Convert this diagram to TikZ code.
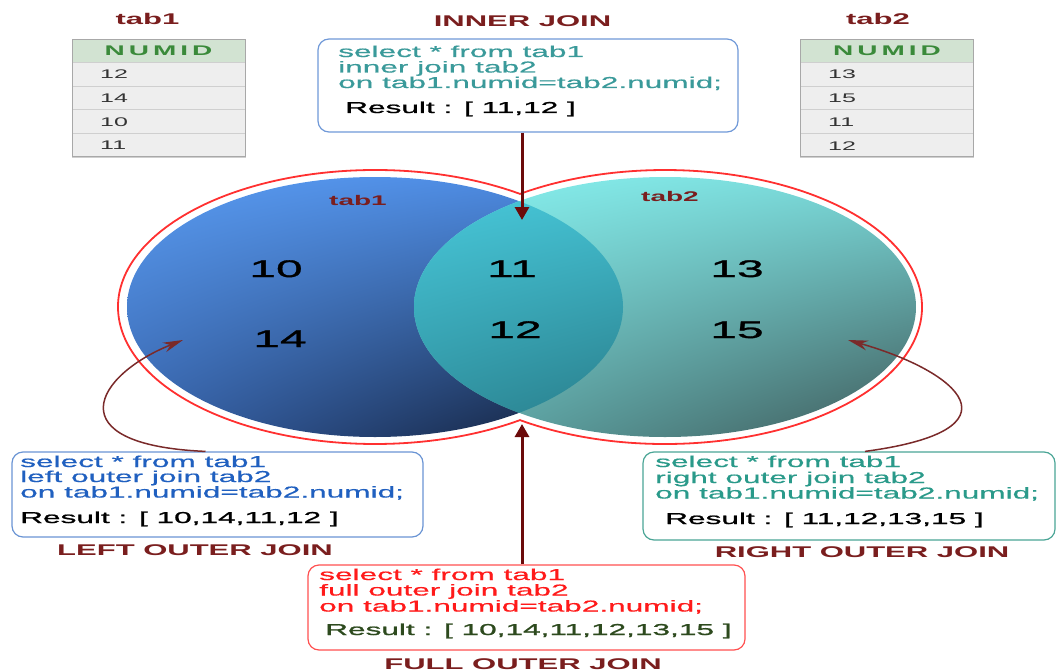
\documentclass[tikz,border=0pt]{standalone}
\usepackage{fontspec}
\usetikzlibrary{arrows.meta,shadings}
\newfontfamily\wf[FakeStretch=2.0]{Liberation Sans}
\newfontfamily\wfm[FakeStretch=2.0,FakeBold=0.6]{Liberation Sans}
\newfontfamily\wfr[FakeStretch=2.0,FakeBold=1.2]{Liberation Sans}
\definecolor{titlec}{HTML}{7A1E1E}
\definecolor{arrowc}{HTML}{6B0A0A}
\definecolor{curvec}{HTML}{7A2A2A}
\definecolor{hdrfill}{HTML}{D2E3D2}
\definecolor{hdrtextc}{HTML}{3A8A3A}
\definecolor{cellfill}{HTML}{EEEEEE}
\definecolor{cellline}{HTML}{CFCFCF}
\definecolor{tabborder}{HTML}{A8A8A8}
\definecolor{innerborder}{HTML}{7099D8}
\definecolor{innertext}{HTML}{3A9A9A}
\definecolor{leftborder}{HTML}{6A94D4}
\definecolor{lefttext}{HTML}{2060C0}
\definecolor{rightborder}{HTML}{4AA596}
\definecolor{righttext}{HTML}{2A9A8A}
\definecolor{fullborder}{HTML}{FF5050}
\definecolor{fulltext}{HTML}{FF1A1A}
\definecolor{fullresult}{HTML}{2D4A1E}
\definecolor{redline}{HTML}{FF3030}
\definecolor{bUL}{HTML}{5A9CF2}
\definecolor{bUR}{HTML}{4A86DD}
\definecolor{bLL}{HTML}{3764AC}
\definecolor{bLR}{HTML}{101A30}
\definecolor{tUL}{HTML}{88F2F0}
\definecolor{tUR}{HTML}{78D6D6}
\definecolor{tLL}{HTML}{62B0B0}
\definecolor{tLR}{HTML}{3E5858}
\definecolor{iUL}{HTML}{4ACCDE}
\definecolor{iUR}{HTML}{3EB8C8}
\definecolor{iLL}{HTML}{2E8E9C}
\definecolor{iLR}{HTML}{1E5A66}
\tikzset{
  jtitle/.style={font=\wf\bfseries\fontsize{15.5}{16}\selectfont, text=titlec, inner sep=0pt, anchor=base},
  sqlline/.style={font=\wfm\fontsize{15.8}{16}\selectfont, inner sep=0pt, anchor=base west},
  resline/.style={font=\wfr\fontsize{15.8}{16}\selectfont, inner sep=0pt, anchor=base west},
  sqlbox/.style={draw, line width=1.2pt, rounded corners=11pt, inner sep=0pt, fill=white},
  cell/.style={minimum width=173pt, minimum height=23.75pt, fill=cellfill, draw=cellline, inner sep=0pt, outer sep=0pt},
  hdr/.style={cell, fill=hdrfill, minimum height=22.5pt},
  hdrtext/.style={font=\wf\bfseries\fontsize{14}{14}\selectfont, text=hdrtextc, inner sep=0pt},
  celltext/.style={font=\wf\fontsize{12.5}{12}\selectfont, text=black!80, inner sep=0pt, anchor=west},
  vennnum/.style={font=\wfr\fontsize{24}{24}\selectfont, text=black, inner sep=0pt, anchor=base},
  vennlabel/.style={font=\wf\bfseries\fontsize{14}{14}\selectfont, text=titlec, inner sep=0pt, anchor=base},
  bigarrow/.style={draw=arrowc, line width=3pt, -{Triangle[width=14pt,length=13pt]}},
  curvearrow/.style={draw=curvec, line width=1.5pt, -{Stealth[width=10pt,length=20pt]}},
}
\begin{document}
\begin{tikzpicture}[x=1pt,y=-1pt]
\useasboundingbox (0,0) rectangle (1056,671);

% ---------- tables ----------
\node[jtitle] (tab1lbl) at (147.5,25) {tab1};
\node[hdr] (t1h) at (158.5,50.75) {};
\node[hdrtext] (t1ht) at (158.5,51) {N\kern4pt U\kern4pt M\kern4pt I\kern4pt D};
\node[cell] (t1r1) at (158.5,73.875) {};
\node[cell] (t1r2) at (158.5,97.625) {};
\node[cell] (t1r3) at (158.5,121.375) {};
\node[cell] (t1r4) at (158.5,145.125) {};
\draw[tabborder, line width=1pt] (t1h.north west) rectangle (t1r4.south east);
\node[celltext] (t1v1) at (100,74.5) {12};
\node[celltext] (t1v2) at (100,98.2) {14};
\node[celltext] (t1v3) at (100,122) {10};
\node[celltext] (t1v4) at (100,145.7) {11};

\node[jtitle] (tab2lbl) at (878,25) {tab2};
\node[hdr] (t2h) at (887,50.75) {};
\node[hdrtext] (t2ht) at (887,51) {N\kern4pt U\kern4pt M\kern4pt I\kern4pt D};
\node[cell] (t2r1) at (887,73.875) {};
\node[cell] (t2r2) at (887,97.625) {};
\node[cell] (t2r3) at (887,121.375) {};
\node[cell] (t2r4) at (887,145.125) {};
\draw[tabborder, line width=1pt] (t2h.north west) rectangle (t2r4.south east);
\node[celltext] (t2v1) at (828,74.5) {13};
\node[celltext] (t2v2) at (828,98.2) {15};
\node[celltext] (t2v3) at (828,122) {11};
\node[celltext] (t2v4) at (828,145.7) {12};

% ---------- venn ----------
\shade[upper left=bUL, upper right=bUR, lower left=bLL, lower right=bLR]
  (375,307) ellipse[x radius=248, y radius=130];
\shade[upper left=tUL, upper right=tUR, lower left=tLL, lower right=tLR]
  (665,307) ellipse[x radius=251, y radius=130];
\begin{scope}
  \clip (375,307) ellipse[x radius=248, y radius=130];
  \shade[upper left=iUL, upper right=iUR, lower left=iLL, lower right=iLR]
    (665,307) ellipse[x radius=251, y radius=130];
\end{scope}
\draw[redline, line width=1.8pt]
  (520,193.9) arc[start angle=-55.65, end angle=-304.35, x radius=257, y radius=137]
  arc[start angle=124.35, end angle=-124.35, x radius=257, y radius=137] -- cycle;

\node[vennlabel] (vl1) at (358,205) {tab1};
\node[vennlabel] (vl2) at (670,201) {tab2};
\node[vennnum] (n10) at (276,277) {10};
\node[vennnum] (n14) at (280,347) {14};
\node[vennnum] (n11) at (512,277) {11};
\node[vennnum] (n12) at (515,338) {12};
\node[vennnum] (n13) at (737,277) {13};
\node[vennnum] (n15) at (737,338) {15};

% ---------- inner join ----------
\node[jtitle] (innert) at (522.5,26.7) {INNER JOIN};
\node[sqlbox, draw=innerborder, minimum width=420pt, minimum height=93pt] (inner) at (528,85.5) {};
\node[sqlline, text=innertext] (i1) at (338,57) {select * from tab1};
\node[sqlline, text=innertext] (i2) at (338,72.5) {inner join tab2};
\node[sqlline, text=innertext] (i3) at (338,88) {on tab1.numid=tab2.numid;};
\node[resline, text=black] (i4) at (345,113) {Result : [ 11,12 ]};
\coordinate (itip) at (522,220);
\draw[bigarrow] ([xshift=-6pt]inner.south) -- (itip);

% ---------- left outer join ----------
\node[sqlbox, draw=leftborder, minimum width=411pt, minimum height=85pt] (lbox) at (217.5,494.5) {};
\node[sqlline, text=lefttext] (l1) at (20,467) {select * from tab1};
\node[sqlline, text=lefttext] (l2) at (20,482) {left outer join tab2};
\node[sqlline, text=lefttext] (l3) at (20,497.5) {on tab1.numid=tab2.numid;};
\node[resline, text=black] (l4) at (20,523) {Result : [ 10,14,11,12 ]};
\node[jtitle] (leftt) at (195,555) {LEFT OUTER JOIN};
\coordinate (ltip) at (183,340);
\draw[curvearrow] ([xshift=-12pt]lbox.north) .. controls (55,445) and (95,375) .. (ltip);

% ---------- right outer join ----------
\node[sqlbox, draw=rightborder, minimum width=412pt, minimum height=88pt] (rbox) at (849,496) {};
\node[sqlline, text=righttext] (r1) at (655,467) {select * from tab1};
\node[sqlline, text=righttext] (r2) at (655,483) {right outer join tab2};
\node[sqlline, text=righttext] (r3) at (655,498.5) {on tab1.numid=tab2.numid;};
\node[resline, text=black] (r4) at (665,524) {Result : [ 11,12,13,15 ]};
\node[jtitle] (rightt) at (862,557) {RIGHT OUTER JOIN};
\coordinate (rtip) at (848,340);
\draw[curvearrow] ([xshift=16pt]rbox.north) .. controls (1025,430) and (960,372) .. (rtip);

% ---------- full outer join ----------
\node[sqlbox, draw=fullborder, minimum width=437pt, minimum height=85pt] (fbox) at (526.5,607.5) {};
\node[sqlline, text=fulltext] (f1) at (319,580) {select * from tab1};
\node[sqlline, text=fulltext] (f2) at (319,595.5) {full outer join tab2};
\node[sqlline, text=fulltext] (f3) at (319,611.5) {on tab1.numid=tab2.numid;};
\node[resline, text=fullresult] (f4) at (325,635) {Result : [ 10,14,11,12,13,15 ]};
\node[jtitle] (fullt) at (523,669) {FULL OUTER JOIN};
\coordinate (ftip) at (522,424);
\draw[bigarrow] ([xshift=-4.5pt]fbox.north) -- (ftip);
\end{tikzpicture}
\end{document}
